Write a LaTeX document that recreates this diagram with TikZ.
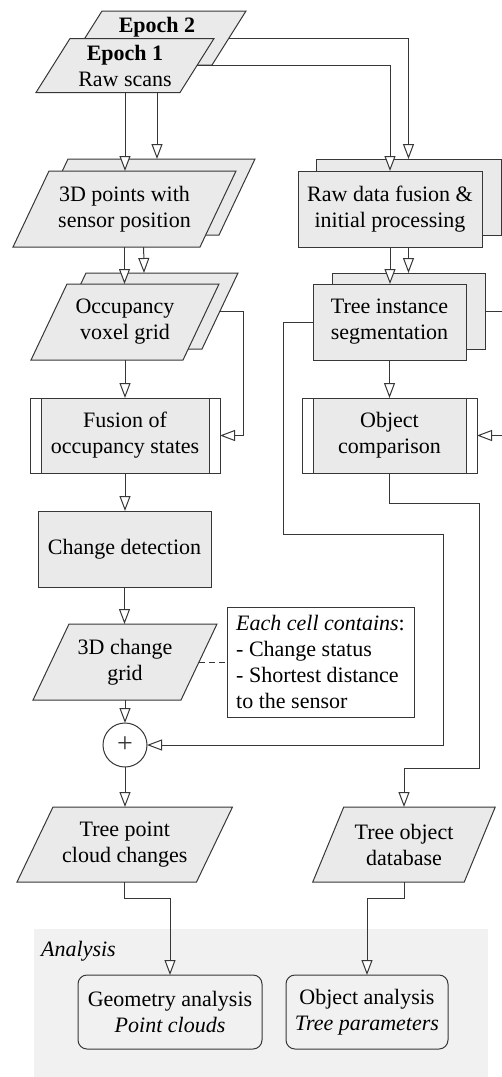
\documentclass[tikz,border=0pt]{standalone}
\usepackage{fontspec}
\setmainfont{Liberation Serif}
\usetikzlibrary{arrows.meta}

% A slanted data box (parallelogram) whose anchors are those of a rectangle
\makeatletter
\newdimen\lb@xa \newdimen\lb@ya \newdimen\lb@xb \newdimen\lb@yb \newdimen\lb@s
\pgfkeys{/pgf/lean/.initial=36pt}
\pgfdeclareshape{leanbox}{%
  \inheritsavedanchors[from=rectangle]%
  \inheritanchorborder[from=rectangle]%
  \inheritanchor[from=rectangle]{center}%
  \inheritanchor[from=rectangle]{north}%
  \inheritanchor[from=rectangle]{south}%
  \inheritanchor[from=rectangle]{east}%
  \inheritanchor[from=rectangle]{west}%
  \inheritanchor[from=rectangle]{mid}%
  \inheritanchor[from=rectangle]{base}%
  \backgroundpath{%
    \pgfmathsetlength\lb@s{0.5*\pgfkeysvalueof{/pgf/lean}}%
    \southwest \lb@xa=\pgf@x \lb@ya=\pgf@y
    \northeast \lb@xb=\pgf@x \lb@yb=\pgf@y
    \pgfpathmoveto{\pgfqpoint{\dimexpr\lb@xa-\lb@s\relax}{\lb@ya}}%
    \pgfpathlineto{\pgfqpoint{\dimexpr\lb@xb-\lb@s\relax}{\lb@ya}}%
    \pgfpathlineto{\pgfqpoint{\dimexpr\lb@xb+\lb@s\relax}{\lb@yb}}%
    \pgfpathlineto{\pgfqpoint{\dimexpr\lb@xa+\lb@s\relax}{\lb@yb}}%
    \pgfpathclose
  }%
}
\makeatother

\definecolor{lc}{RGB}{55,55,55}
\definecolor{bf}{RGB}{234,234,234}
\definecolor{abg}{RGB}{241,241,241}
\newcommand\nf{\fontsize{22}{26}\selectfont}

\tikzset{
  line/.style={draw=lc, line width=1pt},
  arr/.style={line, -{Triangle[length=15pt,width=11pt,fill=white]}},
  io/.style={shape=leanbox, draw=lc, fill=bf, line width=1pt, outer sep=0pt,
    inner sep=2pt, align=center, font=\nf},
  procbox/.style={shape=rectangle, draw=lc, fill=bf, line width=1pt, outer sep=0pt,
    align=center, font=\nf},
  subproc/.style={shape=rectangle, draw=lc, fill=white, line width=1pt, outer sep=0pt,
    align=center, font=\nf,
    path picture={
      \fill[bf] ([xshift=11pt]path picture bounding box.north west)
        rectangle ([xshift=-11pt]path picture bounding box.south east);
      \draw[lc, line width=1pt]
        ([xshift=11pt]path picture bounding box.north west) -- ([xshift=11pt]path picture bounding box.south west)
        ([xshift=-11pt]path picture bounding box.north east) -- ([xshift=-11pt]path picture bounding box.south east);
    }},
  result/.style={shape=rectangle, rounded corners=9pt, draw=lc, line width=1pt,
    outer sep=0pt, align=center, font=\nf},
  notebox/.style={shape=rectangle, draw=lc, fill=white, line width=1pt, outer sep=0pt,
    align=left, font=\nf, minimum width=187pt, minimum height=110pt},
}

\begin{document}
\begin{tikzpicture}[x=1pt,y=-1pt]
\useasboundingbox (0,0) rectangle (502,1077);
\clip (0,0) rectangle (502,1077);

% analysis area
\fill[abg] (34,929) rectangle (488,1090);
\node[anchor=west, inner sep=0pt, font=\nf\itshape] (alab) at (41,951) {Analysis};

% second epoch (drawn behind)
\node[io, lean=36pt, minimum width=187pt, minimum height=76pt] (ptsb) at (143.5,197) {};
\node[procbox, minimum width=185pt, minimum height=76pt] (rawb) at (408.5,197) {};
\node[io, lean=34pt, minimum width=144pt, minimum height=54pt] (ep2) at (157,38) {};
\node[anchor=base, inner sep=0pt, font=\nf\bfseries] (ep2t) at (157,32) {Epoch 2};
\draw[arr] (ep2.south) -- (ep2.south |- ptsb.north);
\draw[arr] (ep2.east) -| (rawb.north);

% first epoch
\node[io, lean=34pt, minimum width=144pt, minimum height=54pt, inner sep=0pt] (ep1) at (125,65.5)
  {\textbf{Epoch 1}\\Raw scans};

% second row, back copies
\node[io, lean=36pt, minimum width=152pt, minimum height=76pt] (occb) at (144,311) {};
\node[procbox, minimum width=153pt, minimum height=76pt] (treeb) at (408.5,311) {};
\draw[arr] (ptsb.south) -- (occb.north);
\draw[arr] (rawb.south) -- (treeb.north);

% first row, front
\node[io, lean=36pt, minimum width=187pt, minimum height=76pt] (pts) at (124.5,209)
  {3D points with\\sensor position};
\node[procbox, minimum width=184pt, minimum height=76pt] (raw) at (390,209)
  {Raw data fusion \&\\initial processing};
\draw[arr] (ep1.south) -- (ep1.south |- pts.north);
\draw[arr] (ep1.east) -| (raw.north);

% second row, front
\node[io, lean=36pt, minimum width=152pt, minimum height=76pt] (occ) at (125,322)
  {Occupancy\\voxel grid};
\node[procbox, minimum width=153pt, minimum height=76pt] (tree) at (389.5,322)
  {Tree instance\\segmentation};
\draw[arr] (pts.south) -- (pts.south |- occ.north);
\draw[arr] (raw.south) -- (raw.south |- tree.north);

% fusion and comparison
\node[subproc, minimum width=190pt, minimum height=75pt] (fus) at (125,435.5)
  {Fusion of\\occupancy states};
\node[subproc, minimum width=175pt, minimum height=75pt] (oc) at (389.5,435.5)
  {Object\\comparison};
\draw[arr] (occ.south) -- (fus.north);
\draw[arr] (occb.east) -- ++(23,0) |- (fus.east);
\draw[arr] (tree.south) -- (oc.north);
\draw[arr] (treeb.east) -- ++(30,0) |- (oc.east);

% change detection
\node[procbox, minimum width=173pt, minimum height=76pt] (chg) at (124.5,549)
  {Change detection};
\draw[arr] (fus.south) -- (fus.south |- chg.north);

\node[io, lean=36pt, minimum width=148pt, minimum height=76pt] (grid) at (125,662)
  {3D change\\grid};
\node[notebox] (note) at (320.5,662)
  {\textit{Each cell contains}:\\- Change status\\- Shortest distance\\to the sensor};
\draw[line, dash pattern=on 6pt off 4pt] (grid.east) -- (note.west);
\draw[arr] (chg.south) -- (chg.south |- grid.north);

% merge of results
\node[circle, draw=lc, fill=white, line width=1pt, minimum size=44pt, inner sep=0pt,
  outer sep=0pt, font=\fontsize{28}{28}\selectfont, text=lc] (plus) at (125,745) {+};
\draw[arr] (grid.south) -- (plus.north);
\draw[arr] (tree.west) -| (283,534) -- (443,534) |- (plus.east);

% outputs
\node[io, lean=36pt, minimum width=179.5pt, minimum height=75pt] (tpc) at (124.75,844.5)
  {Tree point\\cloud changes};
\node[io, lean=31pt, minimum width=151.5pt, minimum height=75pt] (db) at (404,844.5)
  {Tree object\\database};
\draw[arr] (plus.south) -- (plus.south |- tpc.north);
\draw[arr] (oc.south) |- (479,503) -- (479,768) -| (db.north);

% analysis
\node[result, minimum width=184pt, minimum height=74pt] (geo) at (170,1012)
  {Geometry analysis\\\textit{Point clouds}};
\node[result, minimum width=162pt, minimum height=74pt] (oa) at (367,1012)
  {Object analysis\\\textit{Tree parameters}};
\draw[arr] (tpc.south) -- ++(0,16) -| (geo.north);
\draw[arr] (db.south) -- ++(0,16) -| (oa.north);
\end{tikzpicture}
\end{document}
